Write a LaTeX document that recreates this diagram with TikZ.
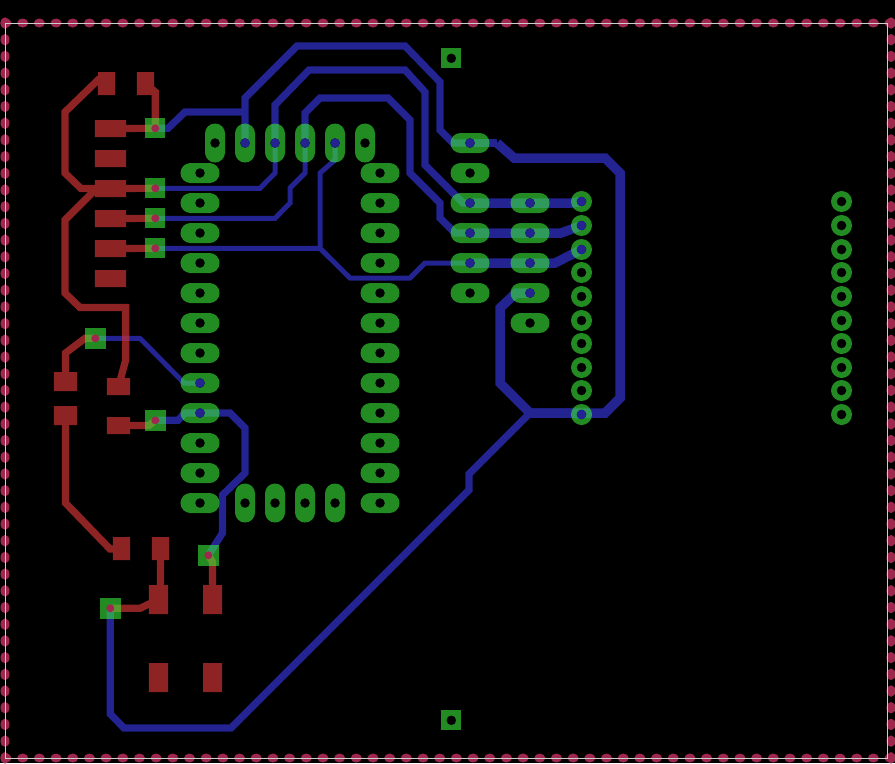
\documentclass[tikz,border=0pt]{standalone}
\usetikzlibrary{shapes.geometric,shapes.misc}

\definecolor{padgreen}{RGB}{57,232,57}
\definecolor{bluecu}{RGB}{35,35,145}
\definecolor{redcu}{RGB}{203,50,50}
\definecolor{viared}{RGB}{158,40,78}
\definecolor{dimline}{RGB}{205,205,205}

\pgfdeclarelayer{bottomcu}
\pgfdeclarelayer{topcu}
\pgfsetlayers{bottomcu,topcu,main}

\begin{document}
\begin{tikzpicture}[x=0.01cm,y=-0.01cm]

        \tikzstyle{padh} = [rounded rectangle, inner sep=0pt, minimum width=0.39cm, minimum height=0.2cm, fill=padgreen, fill opacity=0.6, label={[holeoff]center:}]
        \tikzstyle{padv} = [rounded rectangle, rotate=90, inner sep=0pt, minimum width=0.39cm, minimum height=0.2cm, fill=padgreen, fill opacity=0.6, label={[holeoff]center:}]
        \tikzstyle{ring} = [circle, inner sep=0pt, minimum size=0.21cm, fill=padgreen, fill opacity=0.6, label={[holeoff]center:}]
        \tikzstyle{via} = [rectangle, inner sep=0pt, minimum size=0.2cm, fill=padgreen, fill opacity=0.6]
        \tikzstyle{holeoff} = [circle, inner sep=0pt, minimum size=0.095cm, fill=black]
        \tikzstyle{holeon} = [circle, inner sep=0pt, minimum size=0.095cm, fill=bluecu]
        \tikzstyle{holered} = [circle, inner sep=0pt, minimum size=0.08cm, fill=viared]
        \tikzstyle{smd} = [rectangle, inner sep=0pt, fill=redcu]
        \tikzstyle{smdrow} = [smd, minimum width=0.31cm, minimum height=0.17cm]
        \tikzstyle{smdtall} = [smd, minimum width=0.17cm, minimum height=0.23cm]
        \tikzstyle{smdwide} = [smd, minimum width=0.23cm, minimum height=0.17cm]
        \tikzstyle{smdbig} = [smd, minimum width=0.19cm, minimum height=0.29cm]
        \tikzstyle{blthin} = [bluecu, line width=0.05cm]
        \tikzstyle{blmid} = [bluecu, line width=0.072cm]
        \tikzstyle{blwide} = [bluecu, line width=0.095cm]
        \tikzstyle{redtr} = [redcu, line width=0.072cm]
        \tikzstyle{dotx} = [ellipse, inner sep=0pt, minimum width=0.11cm, minimum height=0.09cm, fill=viared]
        \tikzstyle{doty} = [ellipse, inner sep=0pt, minimum width=0.09cm, minimum height=0.115cm, fill=viared]

        \useasboundingbox (0,0) rectangle (895,763);

        % socket pads
        \foreach \y in {173,203,233,263,293,323,353,383,413,443,473,503} {
            \node (left\y) [padh] at (200,\y) {};
            \node (right\y) [padh] at (380,\y) {};
        }
        \foreach \x in {215,245,275,305,335,365}
            \node (top\x) [padv] at (\x,143) {};
        \foreach \x in {245,275,305,335}
            \node (low\x) [padv] at (\x,503) {};
        \foreach \y in {143,173,203,233,263,293}
            \node (coa\y) [padh] at (470,\y) {};
        \foreach \y in {203,233,263,293,323}
            \node (cob\y) [padh] at (530,\y) {};
        \foreach \y [count=\n] in {201.5,225.5,249.5,272.5,296.5,320.5,343.5,367.5,390.5,414.5} {
            \node (hda\n) [ring] at (581.5,\y) {};
            \node (hdb\n) [ring] at (841.5,\y) {};
        }

        % vias
        \node (via1) [via] at (155.3,128.3) {};
        \node (via2) [via] at (155.3,188.3) {};
        \node (via3) [via] at (155.3,218.3) {};
        \node (via4) [via] at (155.3,248.3) {};
        \node (via5) [via, minimum size=0.21cm] at (95.3,338.3) {};
        \node (via6) [via, minimum size=0.21cm] at (155.3,420.3) {};
        \node (via7) [via, minimum size=0.21cm] at (208.3,555.3) {};
        \node (via8) [via, minimum size=0.21cm] at (110.3,608.3) {};
        \node (mnt1) [via, label={[holeoff]center:}] at (451.3,58.3) {};
        \node (mnt2) [via, label={[holeoff]center:}] at (451.3,720.3) {};

        \node (dr1) [holered] at (via1) {};
        \node (dr2) [holered] at (via2) {};
        \node (dr3) [holered] at (via3) {};
        \node (dr4) [holered] at (via4) {};
        \node (dr5) [holered] at (via5) {};
        \node (dr6) [holered] at (via6) {};
        \node (dr7) [holered] at (via7) {};
        \node (dr8) [holered] at (via8) {};

        % holes with a track in them
        \foreach \p in {left383,left413,top245,top275,top305,top335,coa143,coa203,coa233,coa263,cob203,cob233,cob263,cob293,hda1,hda2,hda3,hda10}
            \node (on\p) [holeon] at (\p.center) {};

        % bottom copper
        \begin{pgfonlayer}{bottomcu}
            \fill [black] (0,0) rectangle (895,763);
            \coordinate (tee) at (530,413);
            \draw [blmid] (via1.center) -- (168,128.3) -- (185,112) -- (245,112);
            \draw [blmid] (top245.center) -- (245,98) -- (297,46) -- (405,46) -- (440,82) -- (440,130) -- (453,143) -- (coa143.center);
            \draw [blmid] (coa143.center) -- (497,143);
            \draw [blwide] (497,143) -- (514,158) -- (605,158) -- (620,173) -- (620,398) -- (605,413) -- (tee);
            \draw [blwide] (hda10.center) -- (572,413) -- (tee) -- (500,383) -- (500,308) -- (516,293) -- (cob293.center);
            \draw [blmid] (tee) -- (469,474) -- (469,490) -- (231,728) -- (124,728) -- (110.3,714) -- (via8.center);
            \draw [blmid] (top275.center) -- (275,105) -- (309,70) -- (405,70) -- (425,92) -- (425,165) -- (463,203) -- (coa203.center);
            \draw [blthin] (top275.center) -- (275,173) -- (260,188.3) -- (via2.center);
            \draw [blmid] (top305.center) -- (305,113) -- (320,98) -- (388,98) -- (410,120) -- (410,173) -- (440,203) -- (440,218) -- (455,233) -- (coa233.center);
            \draw [blthin] (top305.center) -- (305,173) -- (290,188) -- (290,203) -- (275,218.3) -- (via3.center);
            \draw [blthin] (top335.center) -- (335,160) -- (320,173) -- (320,248.3);
            \draw [blthin] (via4.center) -- (320,248.3) -- (350,278) -- (410,278) -- (425,263) -- (coa263.center);
            \draw [blwide] (coa203.center) -- (cob203.center) -- (572,203) -- (hda1.center);
            \draw [blwide] (coa233.center) -- (cob233.center) -- (561,233) -- (hda2.center);
            \draw [blwide] (coa263.center) -- (cob263.center) -- (555,263) -- (hda3.center);
            \draw [blthin] (via5.center) -- (140,338.3) -- (184,383) -- (left383.center);
            \draw [blmid] (via6.center) -- (178,420.3) -- (185,413) -- (230,413) -- (245,428) -- (245,473) -- (222.5,495) -- (222.5,533) -- (via7.center);
        \end{pgfonlayer}

        % top copper
        \begin{pgfonlayer}{topcu}
            \begin{scope}[transparency group, opacity=0.7]
                \node (ka1) [smdtall] at (106.5,83.5) {};
                \node (ka2) [smdtall] at (145.5,83.5) {};
                \node (row1) [smdrow] at (110.5,128.5) {};
                \node (row2) [smdrow] at (110.5,158.5) {};
                \node (row3) [smdrow] at (110.5,188.5) {};
                \node (row4) [smdrow] at (110.5,218.5) {};
                \node (row5) [smdrow] at (110.5,248.5) {};
                \node (row6) [smdrow] at (110.5,278.5) {};
                \node (sw1) [smdwide, minimum height=0.19cm] at (65.5,381.5) {};
                \node (sw2) [smdwide, minimum height=0.19cm] at (65.5,415.5) {};
                \node (cap1) [smdwide] at (118.5,386.5) {};
                \node (cap2) [smdwide] at (118.5,425.5) {};
                \node (res1) [smdtall] at (121.5,548.5) {};
                \node (res2) [smdtall] at (160.5,548.5) {};
                \node (big1) [smdbig] at (158.5,599.5) {};
                \node (big2) [smdbig] at (212.5,599.5) {};
                \node (big3) [smdbig] at (158.5,677.5) {};
                \node (big4) [smdbig] at (212.5,677.5) {};

                \draw [redtr] (ka1.center) -- (98,80) -- (65,112) -- (65,173) -- (81,188.5) -- (row3.center);
                \draw [redtr] (ka2.center) -- (147,85) -- (155.3,92) -- (via1.center);
                \draw [redtr] (row1.center) -- (via1.center);
                \draw [redtr] (row3.center) -- (via2.center);
                \draw [redtr] (row4.center) -- (via3.center);
                \draw [redtr] (row5.center) -- (via4.center);
                \draw [redtr] (row3.center) -- (95,190) -- (65,220) -- (65,293) -- (80,307.5) -- (125.7,307.5) -- (125.7,360) -- (cap1.center);
                \draw [redtr] (via5.center) -- (85,338.3) -- (65.5,353) -- (sw1.center);
                \draw [redtr] (cap2.center) -- (149,425.5) -- (via6.center);
                \draw [redtr] (sw2.center) -- (65.5,503) -- (110,549) -- (res1.center);
                \draw [redtr] (res2.center) -- (160.5,590) -- (big1.center);
                \draw [redtr] (big1.center) -- (140,608.3) -- (via8.center);
                \draw [redtr] (via7.center) -- (212.5,562) -- (big2.center);
            \end{scope}
        \end{pgfonlayer}

        % board outline
        \foreach \n in {0,...,53} {
            \node (dta\n) [dotx] at ({6+16.68*\n},23) {};
            \node (dtb\n) [dotx] at ({6+16.68*\n},758) {};
        }
        \foreach \n in {0,...,44} {
            \node (dla\n) [doty] at (5,{23+16.7*\n}) {};
            \node (dlb\n) [doty] at (891,{23+16.7*\n}) {};
        }
        \draw [dimline, line width=0.01cm] (5.5,23.5) rectangle (887.5,758);

    \end{tikzpicture}
\end{document}
